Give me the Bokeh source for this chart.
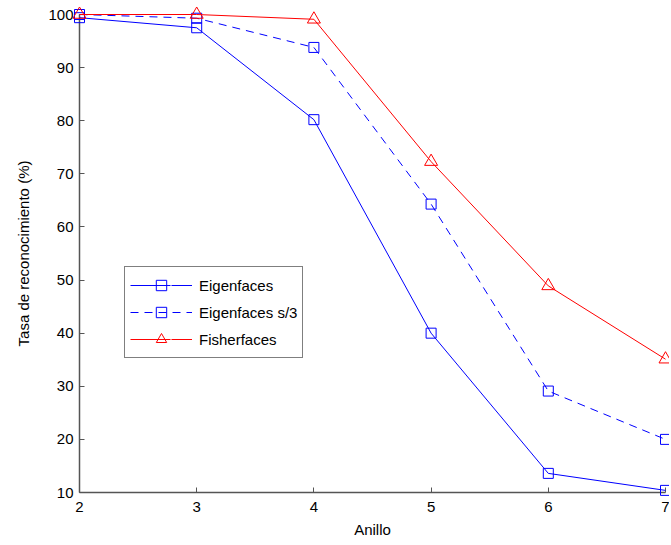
from bokeh.plotting import figure
from bokeh.models import Range1d, Legend, LegendItem, FixedTicker
from bokeh.embed import file_html
from bokeh.resources import INLINE

anillo = [2, 3, 4, 5, 6, 7]
eigenfaces = [99.4, 97.5, 80.2, 40.0, 13.6, 10.4]
eigenfaces_s3 = [100.0, 99.3, 93.8, 64.3, 29.1, 20.0]
fisherfaces = [100.0, 100.0, 99.1, 72.3, 48.9, 35.1]
x_ticks = [2, 3, 4, 5, 6, 7]
y_ticks = [10, 20, 30, 40, 50, 60, 70, 80, 90, 100]

FONT = "Liberation Sans"
NAN = float("nan")

p = figure(width=669, height=540, output_backend="svg", toolbar_location=None,
           x_range=Range1d(2, 7), y_range=Range1d(10, 100),
           min_border_left=79, min_border_top=14, min_border_right=4, min_border_bottom=47)
p.outline_line_color = None
p.grid.visible = False
p.background_fill_color = "white"
p.border_fill_color = "white"

for ax in (p.xaxis[0], p.yaxis[0]):
    ax.axis_line_color = "#555555"
    ax.axis_line_width = 1.5
    ax.major_tick_line_color = "#555555"
    ax.major_tick_in = 5
    ax.major_tick_out = 0
    ax.minor_tick_line_color = None
    ax.major_label_text_font = FONT
    ax.major_label_text_font_size = "15px"
    ax.major_label_text_color = "black"
    ax.axis_label_text_font = FONT
    ax.axis_label_text_font_size = "15px"
    ax.axis_label_text_font_style = "normal"
    ax.axis_label_text_color = "black"

p.xaxis[0].ticker = FixedTicker(ticks=x_ticks)
p.yaxis[0].ticker = FixedTicker(ticks=y_ticks)
p.xaxis[0].axis_label = "Anillo"
p.yaxis[0].axis_label = "Tasa de reconocimiento (%)"
p.xaxis[0].major_label_standoff = 9
p.yaxis[0].major_label_standoff = 6
p.xaxis[0].axis_label_standoff = 6
p.yaxis[0].axis_label_standoff = 13

l1 = p.line(anillo, eigenfaces, line_color="blue", line_width=1, level="overlay")
m1 = p.scatter(anillo, eigenfaces, marker="square", size=10, fill_color=None,
               line_color="blue", line_width=1, level="overlay")
l2 = p.line(anillo, eigenfaces_s3, line_color="blue", line_width=1, line_dash="8 6", level="overlay")
m2 = p.scatter(anillo, eigenfaces_s3, marker="square", size=10, fill_color=None,
               line_color="blue", line_width=1, level="overlay")
l3 = p.line(anillo, fisherfaces, line_color="red", line_width=1, level="overlay")
m3 = p.scatter(anillo, fisherfaces, marker="triangle", size=13, fill_color=None,
               line_color="red", line_width=1, level="overlay")

# legend-only proxy lines (NaN data: nothing drawn in the plot)
g1 = p.multi_line([[NAN, NAN]], [[NAN, NAN]], line_color="#0000ff", line_alpha=0.99,
                  line_width=1.2, line_dash="40 1")
g3 = p.multi_line([[NAN, NAN]], [[NAN, NAN]], line_color="#ff0000", line_alpha=0.99,
                  line_width=1.2, line_dash="40 1")

legend = Legend(items=[
    LegendItem(label="Eigenfaces", renderers=[m1, g1]),
    LegendItem(label="Eigenfaces s/3", renderers=[l2, m2]),
    LegendItem(label="Fisherfaces", renderers=[m3, g3]),
], location=(45, 134))
legend.border_line_color = "black"
legend.border_line_width = 1
legend.background_fill_color = "white"
legend.background_fill_alpha = 1
legend.label_text_font = FONT
legend.label_text_font_size = "15px"
legend.label_text_color = "black"
legend.glyph_width = 62
legend.glyph_height = 26
legend.label_height = 18
legend.label_standoff = 7
legend.spacing = 1
legend.padding = 5
legend.margin = 0
p.add_layout(legend, "center")

open("out.html", "w").write(file_html(p, INLINE))
